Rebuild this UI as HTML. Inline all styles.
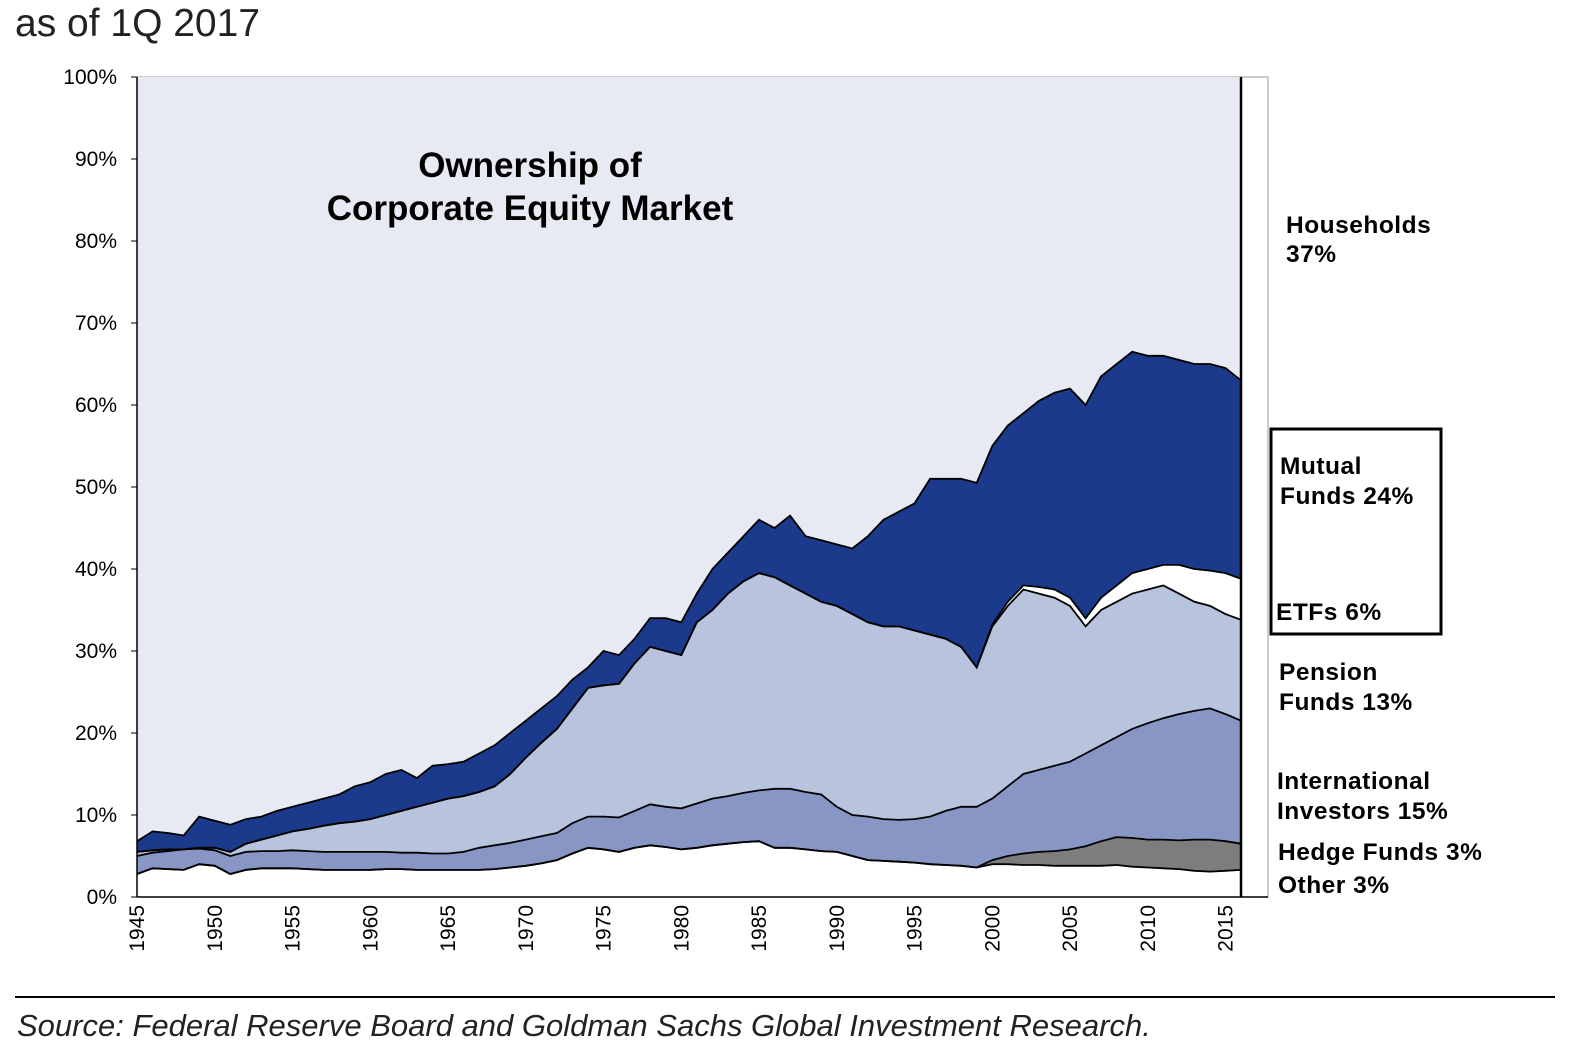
<!DOCTYPE html>
<html><head><meta charset="utf-8"><style>
body{margin:0;background:#fff;}
svg{display:block;font-family:"Liberation Sans",Arial,sans-serif;}
</style></head><body>
<svg width="1582" height="1057" viewBox="0 0 1582 1057">
<text x="15" y="36" font-size="39" fill="#222">as of 1Q 2017</text>
<rect x="137" y="77" width="1131" height="820" fill="#fff" stroke="#999" stroke-width="1"/>
<rect x="137" y="77" width="1104" height="820" fill="#e8eaf3"/>
<g id="areas"></g>
<g id="axes"></g>
<line x1="1241" y1="77" x2="1241" y2="897" stroke="#000" stroke-width="2.5"/>
<text x="530" y="177" font-size="35" font-weight="bold" text-anchor="middle">Ownership of</text>
<text x="530" y="220" font-size="35" font-weight="bold" text-anchor="middle">Corporate Equity Market</text>
<g font-size="24.5" font-weight="bold" fill="#000" letter-spacing="0.5">
<text x="1286" y="233">Households</text>
<text x="1286" y="262">37%</text>
<rect x="1271" y="429" width="170" height="205" fill="none" stroke="#000" stroke-width="3"/>
<text x="1280" y="474">Mutual</text>
<text x="1280" y="504">Funds 24%</text>
<text x="1276" y="620">ETFs 6%</text>
<text x="1279" y="680">Pension</text>
<text x="1279" y="710">Funds 13%</text>
<text x="1277" y="789">International</text>
<text x="1277" y="819">Investors 15%</text>
<text x="1278" y="860">Hedge Funds 3%</text>
<text x="1278" y="893">Other 3%</text>
</g>
<line x1="15" y1="997" x2="1555" y2="997" stroke="#000" stroke-width="2"/>
<text x="17" y="1036" font-size="31" font-style="italic" fill="#222">Source: Federal Reserve Board and Goldman Sachs Global Investment Research.</text>
</svg>
<script>
const years=[];for(let y=1945;y<=2016;y++)years.push(y);
const cumOther=[2.8,3.5,3.4,3.3,4.0,3.8,2.8,3.3,3.5,3.5,3.5,3.4,3.3,3.3,3.3,3.3,3.4,3.4,3.3,3.3,3.3,3.3,3.3,3.4,3.6,3.8,4.1,4.5,5.3,6.0,5.8,5.5,6.0,6.3,6.1,5.8,6.0,6.3,6.5,6.7,6.8,6.0,6.0,5.8,5.6,5.5,5.0,4.5,4.4,4.3,4.2,4.0,3.9,3.8,3.6,4.0,4.0,3.9,3.9,3.8,3.8,3.8,3.8,3.9,3.7,3.6,3.5,3.4,3.2,3.1,3.2,3.3];
const cumHedge=[2.8,3.5,3.4,3.3,4.0,3.8,2.8,3.3,3.5,3.5,3.5,3.4,3.3,3.3,3.3,3.3,3.4,3.4,3.3,3.3,3.3,3.3,3.3,3.4,3.6,3.8,4.1,4.5,5.3,6.0,5.8,5.5,6.0,6.3,6.1,5.8,6.0,6.3,6.5,6.7,6.8,6.0,6.0,5.8,5.6,5.5,5.0,4.5,4.4,4.3,4.2,4.0,3.9,3.8,3.6,4.5,5.0,5.3,5.5,5.6,5.8,6.2,6.8,7.3,7.2,7.0,7.0,6.9,7.0,7.0,6.8,6.5];
const cumIntl=[5.0,5.4,5.6,5.8,5.9,5.7,5.0,5.5,5.6,5.6,5.7,5.6,5.5,5.5,5.5,5.5,5.5,5.4,5.4,5.3,5.3,5.5,6.0,6.3,6.6,7.0,7.4,7.8,9.0,9.8,9.8,9.7,10.5,11.3,11.0,10.8,11.4,12.0,12.3,12.7,13.0,13.2,13.2,12.8,12.5,11.0,10.0,9.8,9.5,9.4,9.5,9.8,10.5,11.0,11.0,12.0,13.5,15.0,15.5,16.0,16.5,17.5,18.5,19.5,20.5,21.2,21.8,22.3,22.7,23.0,22.3,21.5];
const cumPension=[5.5,5.7,5.8,5.8,6.0,6.0,5.5,6.5,7.0,7.5,8.0,8.3,8.7,9.0,9.2,9.5,10.0,10.5,11.0,11.5,12.0,12.3,12.8,13.5,15.0,17.0,18.8,20.5,23.0,25.5,25.8,26.0,28.5,30.5,30.0,29.5,33.5,35.0,37.0,38.5,39.5,39.0,38.0,37.0,36.0,35.5,34.5,33.5,33.0,33.0,32.5,32.0,31.5,30.5,28.0,33.0,35.5,37.5,37.0,36.5,35.5,33.0,35.0,36.0,37.0,37.5,38.0,37.0,36.0,35.5,34.5,33.8];
const cumEtf=[5.5,5.7,5.8,5.8,6.0,6.0,5.5,6.5,7.0,7.5,8.0,8.3,8.7,9.0,9.2,9.5,10.0,10.5,11.0,11.5,12.0,12.3,12.8,13.5,15.0,17.0,18.8,20.5,23.0,25.5,25.8,26.0,28.5,30.5,30.0,29.5,33.5,35.0,37.0,38.5,39.5,39.0,38.0,37.0,36.0,35.5,34.5,33.5,33.0,33.0,32.5,32.0,31.5,30.5,28.0,33.2,36.0,38.0,37.8,37.5,36.5,34.0,36.5,38.0,39.5,40.0,40.5,40.5,40.0,39.8,39.5,38.8];
const cumMutual=[6.8,8.0,7.8,7.5,9.8,9.3,8.8,9.5,9.8,10.5,11.0,11.5,12.0,12.5,13.5,14.0,15.0,15.5,14.5,16.0,16.2,16.5,17.5,18.5,20.0,21.5,23.0,24.5,26.5,28.0,30.0,29.5,31.5,34.0,34.0,33.5,37.0,40.0,42.0,44.0,46.0,45.0,46.5,44.0,43.5,43.0,42.5,44.0,46.0,47.0,48.0,51.0,51.0,51.0,50.5,55.0,57.5,59.0,60.5,61.5,62.0,60.0,63.5,65.0,66.5,66.0,66.0,65.5,65.0,65.0,64.5,63.0];
const yTicks=[0,10,20,30,40,50,60,70,80,90,100];
const xTickYears=[1945,1950,1955,1960,1965,1970,1975,1980,1985,1990,1995,2000,2005,2010,2015];
const NS='http://www.w3.org/2000/svg';
const x=y=>137+(y-1945)*15.55;
const yS=v=>897-v*8.2;
const areas=document.getElementById('areas'),axes=document.getElementById('axes');
function band(lo,hi,fill,name){
  let d='M'+years.map((yr,i)=>x(yr).toFixed(1)+','+yS(hi[i]).toFixed(1)).join('L');
  for(let i=years.length-1;i>=0;i--)d+='L'+x(years[i]).toFixed(1)+','+(lo?yS(lo[i]):897).toFixed(1);
  const p=document.createElementNS(NS,'path');p.setAttribute('d',d+'Z');p.setAttribute('fill',fill);
  
  
  areas.appendChild(p);
}
function line(arr,name){
  const p=document.createElementNS(NS,'path');
  p.setAttribute('d','M'+years.map((yr,i)=>x(yr).toFixed(1)+','+yS(arr[i]).toFixed(1)).join('L'));
  p.setAttribute('fill','none');p.setAttribute('stroke','#000');p.setAttribute('stroke-width','1.8');
  
  
  areas.appendChild(p);
}
band(cumEtf,cumMutual,'#1b3a8c','area-mutual-funds');
band(cumPension,cumEtf,'#ffffff','area-etfs');
band(cumIntl,cumPension,'#b8c3de','area-pension-funds');
band(cumHedge,cumIntl,'#8796c5','area-international');
band(cumOther,cumHedge,'#7d7d7d','area-hedge-funds');
band(null,cumOther,'#ffffff','area-other');
line(cumOther,'line-other');line(cumHedge,'line-hedge');line(cumIntl,'line-international');
line(cumPension,'line-pension');line(cumEtf,'line-etf');line(cumMutual,'line-mutual');
let al=document.createElementNS(NS,'line');
al.setAttribute('x1',137);al.setAttribute('x2',137);al.setAttribute('y1',77);al.setAttribute('y2',897);al.setAttribute('stroke','#000');al.setAttribute('stroke-width','1.5');


axes.appendChild(al);
let bl=document.createElementNS(NS,'line');
bl.setAttribute('x1',137);bl.setAttribute('x2',1268);bl.setAttribute('y1',897);bl.setAttribute('y2',897);bl.setAttribute('stroke','#000');bl.setAttribute('stroke-width','1.5');


axes.appendChild(bl);
yTicks.forEach(v=>{
  const t=document.createElementNS(NS,'text');t.setAttribute('x',117);t.setAttribute('y',yS(v)+7);
  t.setAttribute('text-anchor','end');t.setAttribute('font-size','21');t.textContent=v+'%';
  
  
  axes.appendChild(t);
  const l=document.createElementNS(NS,'line');l.setAttribute('x1',131);l.setAttribute('x2',137);l.setAttribute('y1',yS(v));l.setAttribute('y2',yS(v));l.setAttribute('stroke','#000');
  
  
  axes.appendChild(l);
});
xTickYears.forEach(yr=>{
  const t=document.createElementNS(NS,'text');const px=x(yr)+7;
  t.setAttribute('transform','translate('+px+',905) rotate(-90)');
  t.setAttribute('text-anchor','end');t.setAttribute('font-size','21');t.textContent=yr;
  
  
  axes.appendChild(t);
});
</script>
</body></html>
